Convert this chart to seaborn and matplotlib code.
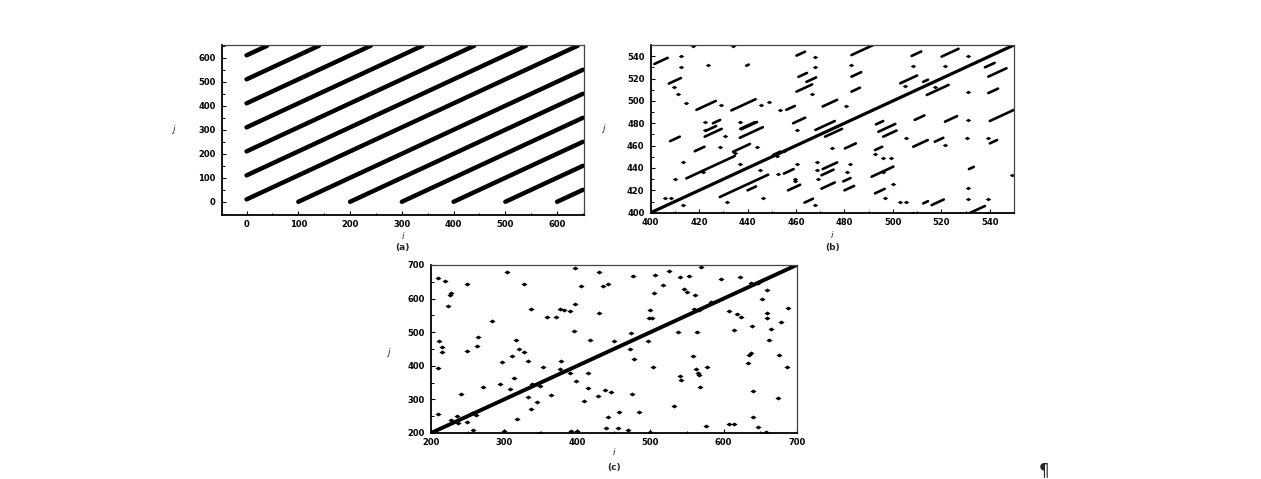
import numpy as np
import pandas as pd
import matplotlib
matplotlib.use("Agg")
import matplotlib.pyplot as plt
from matplotlib.path import Path
from matplotlib.ticker import MultipleLocator
import seaborn as sns

# ---------------- data ----------------
# (a) recurrence lines: start / end points of each diagonal line
a_i0 = [0, 0, 0, 0, 0, 0, 0, 100, 200, 300, 400, 500, 600]
a_j0 = [10, 110, 210, 310, 410, 510, 610, 0, 0, 0, 0, 0, 0]
a_i1 = [640, 540, 440, 340, 240, 140, 40, 650, 650, 650, 650, 650, 650]
a_j1 = [650, 650, 650, 650, 650, 650, 650, 550, 450, 350, 250, 150, 50]

# (b) main diagonal and short diagonal segments (start i, start j, length)
b_diag_i = [400, 550]
b_diag_j = [400, 550]
b_seg_i0 = [401.5, 407.5, 418.9, 433.3, 456, 460.2, 461, 464.3, 460.2, 471, 425.7, 437.4, 458.8,
            482.9, 482.9, 482.9, 507.7, 520.1, 538, 539.4, 503, 512.5, 514, 539.4, 509, 521.5,
            540, 468, 472, 480.2, 494, 496, 493, 492.6, 508.4, 517.3, 540, 408, 418.2, 414.7,
            434, 422.3, 436.8, 450.5, 428.5, 440, 455, 456.7, 463.5, 471, 470.5, 470.5, 479.5,
            480, 491.2, 492.6, 531.4, 512.5, 516, 531, 439.5, 437, 423]
b_seg_j0 = [533, 515.5, 492, 491.5, 492, 540.5, 521.5, 517, 508.3, 495, 480, 474.6, 480,
            541, 521.7, 508.3, 540.2, 539.6, 530, 521.7, 515.7, 517, 505.3, 507, 483, 481.4,
            482, 474, 468, 457.5, 472.4, 468, 479, 456, 459, 463.5, 462, 464, 455, 430.7,
            454.5, 468, 467, 451.6, 414, 420, 435, 420, 409, 439, 433.5, 421.5, 428,
            420, 432.2, 417.3, 439, 408.3, 406.8, 399, 531.5, 475, 473.5]
b_seg_len = [5.5, 5, 8, 10, 3.5, 3.5, 3.5, 4, 6.5, 6, 3, 6.5, 5,
             10, 4, 3.5, 4, 7, 4, 7.5, 7, 2, 9, 4, 4, 5,
             10, 8, 7, 4.5, 7, 5.5, 3, 3, 6, 3.5, 3, 4, 4, 20,
             7, 7, 9.5, 3, 20, 3.5, 4, 5, 3.5, 6, 5, 5.5, 3,
             4, 9, 4, 2, 2, 5, 7, 1, 6, 4]
b_dot_i = [412.7, 412.7, 417.5, 423.5, 434, 411.3, 409.5, 414.7, 429.2, 445.7, 449, 453.3, 467.7,
           467.7, 466.4, 480.5, 422.3, 422.3, 437, 482.9, 508.4, 531.1, 521.5, 505, 517.3, 531.1,
           531, 474.7, 492.6, 505.6, 521.5, 530.8, 539.4, 413.4, 409.9, 428.5, 436.8, 445, 421.6,
           460.2, 455, 452, 413.4, 408.5, 431.3, 446.4, 460.2, 459.5, 467.7, 468.5, 468.5, 469,
           482.3, 481, 496, 499.4, 500, 496.7, 496, 531.1, 531.1, 539.4, 505.6, 508.4, 549,
           430.5, 539.4, 503, 444, 434.8, 406, 459.6, 452.7]
b_dot_j = [540, 530.5, 549, 532, 549, 506.2, 512.7, 497.8, 496.4, 496.4, 499.3, 492, 539.6,
           530.6, 505.9, 495.5, 481.4, 474, 481.4, 532, 531.2, 540.2, 531.2, 513.3, 512.8, 508.3,
           483, 458.1, 452.2, 466.5, 460.5, 466.5, 467, 445, 430.1, 459, 443.5, 438.1, 436.6,
           474, 455.5, 451, 406.8, 412.8, 409.2, 413.4, 444, 430.5, 406.8, 445.6, 438, 430,
           444, 436.7, 448.6, 448.6, 426, 413.4, 436.6, 421.7, 412.2, 412.2, 409.8, 399.4, 433.7,
           468.5, 399.5, 410, 459, 453, 413, 428, 435]

# (c) main diagonal and scattered recurrence points
c_diag_i = [200, 700]
c_diag_j = [200, 700]
c_pt_i = [209, 219, 227.4, 226, 222.8, 248.8, 303.5, 327, 336.7, 358, 283, 211, 214.6, 215.5,
          264.7, 263.4, 248.8, 315.8, 320.8, 327, 310.3, 296.6, 333, 353.6, 209, 314, 294.4, 308,
          271.6, 241, 337.7, 349, 333, 345.4, 336.7, 364, 210, 235, 228, 237.4, 248.8, 255.6,
          318, 257, 300, 349,
          396.4, 429.6, 405.5, 435, 442, 476, 506.7, 526, 517, 505, 396.4, 377, 381.8, 389.5,
          429.6, 371.3, 499, 497.5, 502, 395.5, 417, 450, 473, 496.6, 472.5, 378, 375.9,
          389.5, 414.6, 397.7, 477.5, 503.5, 414.6, 438, 446.5, 428.3, 409, 474.8, 456.5, 442,
          484, 391, 400, 439.7, 455.6, 470, 499,
          569, 540.8, 553, 596.4, 622.8, 546, 550, 560.8, 638, 647.4, 659.3, 652, 607.8, 619,
          623.7, 660, 659, 688.4, 638.3, 678.4, 664.7, 613.7, 538, 563.5, 662.5, 557.6, 637.4,
          635, 633.7, 676, 686.6, 578, 562, 564.5, 566.7, 540.8, 541.7, 568, 639.7, 674, 531.6,
          639.7, 575.9, 607.8, 614.6, 647.4, 658, 560, 566, 583, 262]
c_pt_j = [662, 652, 615.6, 610.6, 579, 643.4, 678, 643, 570, 544, 534, 473, 455, 441,
          485, 459, 444, 477, 449, 440, 430, 410, 415, 397.4, 392, 362.6, 344.8, 332,
          336.8, 316, 345.8, 340, 308, 293, 270, 313, 255.5, 250.5, 238.6, 230.7, 232.7, 258.5,
          240.6, 208.9, 206, 201,
          691, 680, 637.4, 638.4, 643.4, 667, 669, 683, 639.4, 615.6, 582.9, 569, 566, 564,
          558, 544, 566, 541, 541, 503.5, 476.7, 473.7, 496.6, 473.7, 450.9, 415, 389.4,
          377.5, 377.5, 353.7, 419, 395.4, 332.9, 328, 322, 310, 295, 316, 261.5, 246.6,
          263.4, 206.9, 205, 213.8, 213.8, 208.9, 203.9,
          695, 663, 667, 657, 663, 627.5, 620.6, 610.6, 647.3, 647.3, 625.5, 597.7, 564, 554,
          546, 558, 541, 571, 519.4, 529.3, 508.5, 506.5, 501.5, 501.5, 476.7, 430, 439,
          432, 407.3, 432, 397.4, 397.4, 389.4, 377.5, 372.6, 369.6, 357.6, 336, 326, 303, 281.3,
          246.6, 221.8, 225.7, 225.7, 216.8, 204, 568, 566, 591, 255]

# ---------------- style ----------------
sns.set_theme(style="ticks")
plt.rcParams['font.family'] = ['DejaVu Sans']
plt.rcParams['axes.linewidth'] = 1.0

W, H = 1261, 479
fig = plt.figure(figsize=(W / 100, H / 100), dpi=100)
fig.patch.set_facecolor('white')


def add_axes(left, top, right, bottom):
    return fig.add_axes([left / W, 1 - bottom / H, (right - left) / W, (bottom - top) / H])


ax_a = add_axes(221.7, 45, 584, 215)
ax_b = add_axes(650.7, 45, 1014, 212.7)
ax_c = add_axes(431, 265, 796.7, 433)

diamond = Path([(-1.7, 0), (0, 1.1), (1.7, 0), (0, -1.1), (-1.7, 0)],
               [Path.MOVETO, Path.LINETO, Path.LINETO, Path.LINETO, Path.CLOSEPOLY])


def segments_df(i0, j0, i1, j1):
    rows = []
    for k, (a, b, c, d) in enumerate(zip(i0, j0, i1, j1)):
        rows.append((k, a, b))
        rows.append((k, c, d))
    return pd.DataFrame(rows, columns=['seg', 'i', 'j'])


def style_axes(ax, xlim, ylim, xmaj, ymaj, letter, jx, jy, iy, ly):
    ax.set_xlim(*xlim)
    ax.set_ylim(*ylim)
    ax.xaxis.set_major_locator(MultipleLocator(xmaj))
    ax.yaxis.set_major_locator(MultipleLocator(ymaj))
    ax.xaxis.set_minor_locator(MultipleLocator(xmaj / 2))
    ax.yaxis.set_minor_locator(MultipleLocator(ymaj / 2))
    ax.tick_params(which='major', direction='in', length=3, width=0.8, labelsize=6,
                   color='black', labelcolor='black')
    ax.tick_params(which='minor', direction='in', length=1.8, width=0.7, color='black')
    ax.tick_params(axis='y', pad=4.5)
    ax.tick_params(axis='x', pad=3.5)
    for lab in ax.get_xticklabels() + ax.get_yticklabels():
        lab.set_fontweight('bold')
    ax.set_xlabel('')
    ax.set_ylabel('')
    for side in ['left', 'bottom']:
        ax.spines[side].set_linewidth(1.3)
        ax.spines[side].set_color('black')
    for side in ['top', 'right']:
        ax.spines[side].set_visible(True)
        ax.spines[side].set_linewidth(0.9)
        ax.spines[side].set_color('#444444')
    ax.set_facecolor('white')
    ax.text(jx, jy, 'j', transform=ax.transAxes, style='italic', fontsize=6.5,
            ha='center', va='center')
    ax.text(0.5, iy, 'i', transform=ax.transAxes, style='italic', fontsize=6.5,
            ha='center', va='center')
    ax.text(0.5, ly, letter, transform=ax.transAxes, fontsize=6.5, fontweight='bold',
            ha='center', va='center')


# ---------------- (a) ----------------
df_a = segments_df(a_i0, a_j0, a_i1, a_j1)
sns.lineplot(data=df_a, x='i', y='j', units='seg', estimator=None, sort=False,
             color='black', lw=3.2, solid_capstyle='round', ax=ax_a, legend=False)
style_axes(ax_a, (-48, 652), (-55, 653), 100, 100, '(a)', -0.134, 0.5, -0.129, -0.194)

# ---------------- (b) ----------------
b_i1 = [a + l for a, l in zip(b_seg_i0, b_seg_len)]
b_j1 = [a + l for a, l in zip(b_seg_j0, b_seg_len)]
df_b = segments_df(b_seg_i0, b_seg_j0, b_i1, b_j1)
sns.lineplot(data=df_b, x='i', y='j', units='seg', estimator=None, sort=False,
             color='black', lw=1.9, solid_capstyle='round', ax=ax_b, legend=False)
sns.lineplot(x=b_diag_i, y=b_diag_j, color='black', lw=2.3, ax=ax_b, legend=False)
sns.scatterplot(x=b_dot_i, y=b_dot_j, marker=diamond, s=16, color='black',
                linewidth=0, ax=ax_b, legend=False)
style_axes(ax_b, (400, 550), (400, 550), 20, 20, '(b)', -0.131, 0.5, -0.133, -0.205)

# ---------------- (c) ----------------
sns.lineplot(x=c_diag_i, y=c_diag_j, color='black', lw=2.8, ax=ax_c, legend=False)
sns.scatterplot(x=c_pt_i, y=c_pt_j, marker=diamond, s=20, color='black',
                linewidth=0, ax=ax_c, legend=False)
style_axes(ax_c, (200, 700), (200, 700), 100, 100, '(c)', -0.118, 0.482, -0.119, -0.208)

fig.text(1044 / W, 1 - 470 / H, '\u00b6', fontsize=12, ha='center', va='center')

fig.savefig('out.png', dpi=100, facecolor='white')
